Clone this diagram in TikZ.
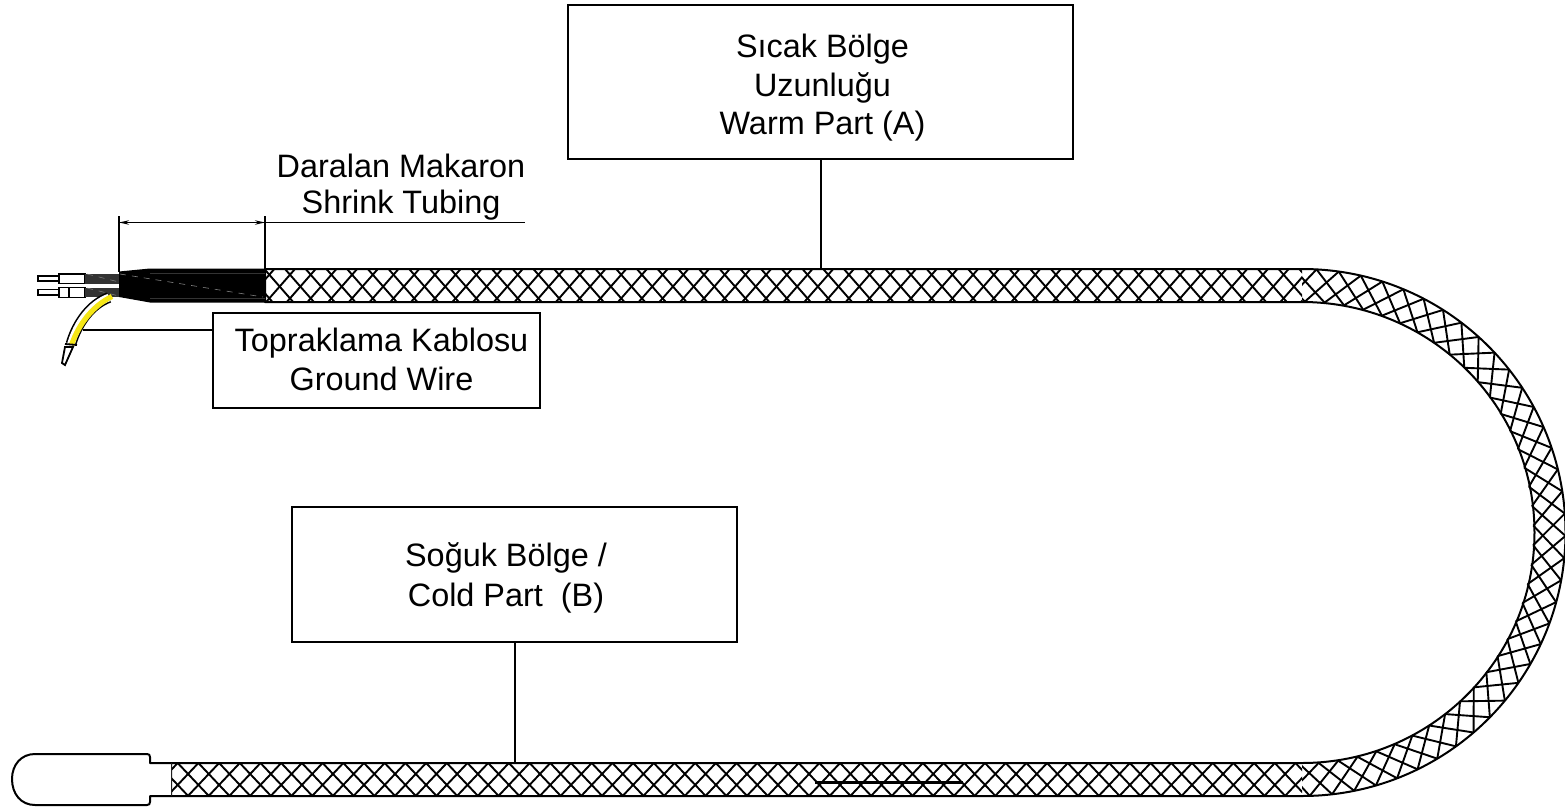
\documentclass[tikz,border=0pt]{standalone}
\usepackage{xcolor}
\usepackage{fontspec}
\setmainfont{Liberation Sans}
\usetikzlibrary{arrows.meta}
\definecolor{jacket}{HTML}{333333}
\definecolor{groundyellow}{HTML}{F5E616}

\begin{document}
\begin{tikzpicture}[
          x=0.5pt, y=-0.5pt,
          labelbox/.style={rectangle, draw, line width=0.8pt, inner sep=0pt},
          labeltext/.style={align=center, inner sep=0pt, font=\fontsize{16.2}{19.25}\selectfont},
          outline/.style={line width=1pt, line join=round},
          leader/.style={line width=0.75pt},
          braid/.style={line width=0.95pt},
          wire/.style={line width=0.9pt, fill=white},
          dimarrow/.style={{Stealth[length=5pt,width=2.2pt]}-{Stealth[length=5pt,width=2.2pt]}, line width=0.75pt}
      ]
      \useasboundingbox (0,0) rectangle (1565,809);

      % Boxes
      \node[labelbox, minimum width=252.5pt, minimum height=77pt] (warmbox) at (820.5,82) {};
      \node[labelbox, minimum width=163.5pt, minimum height=47.5pt] (groundbox) at (376.5,360.5) {};
      \node[labelbox, minimum width=222.5pt, minimum height=67.5pt] (coldbox) at (514.5,574.5) {};

      % Labels
      \node[labeltext] (warmtext) at (822.5,88) {Sıcak Bölge\\Uzunluğu\\Warm Part (A)};
      \node[labeltext] (groundtext) at (381.5,359.5) {Topraklama Kablosu\\Ground Wire};
      \node[labeltext, font=\fontsize{16.2}{20}\selectfont] (coldtext) at (506,578) {Soğuk Bölge /\\Cold Part~ (B)};
      \node[labeltext, font=\fontsize{16.2}{18}\selectfont] (shrinktext) at (401,187) {Daralan Makaron\\Shrink Tubing};

      % Heating strip
      \draw[outline] (265,269) -- (1302,269) arc[start angle=90, end angle=-90, radius=131.75pt] -- (171,796) -- (171,763)
            -- (1302,763) arc[start angle=-90, end angle=90, x radius=116.25pt, y radius=115.25pt] -- (265,302) -- cycle;

      % Braid on the straight parts
      \foreach \ytop/\xleft/\xback/\xfore/\xrun in {269/265/285/295/28.9, 763/171/778/778/31.2}{
        \begin{scope}
          \clip (\xleft,\ytop) rectangle (1302,\ytop+33);
          \foreach \k in {-60,...,60}{
            \draw[braid] ({\xback+\k*20.7},\ytop) -- ++(\xrun,33);
            \draw[braid] ({\xfore+\k*20.7},\ytop) -- ++(-\xrun,33);
          }
        \end{scope}
      }

      % Braid on the bend
      \begin{scope}
        \clip (1302,260) rectangle (1575,805);
        \foreach \k in {-2,...,40}{
          \pgfmathsetmacro{\angA}{91.7-\k*4.865}
          \draw[braid] ({1302+263.5*cos(\angA)},{532.5-263.5*sin(\angA)}) -- ({1302+231.5*cos(\angA-7.3)},{532.5-231*sin(\angA-7.3)});
          \draw[braid] ({1302+263.5*cos(\angA)},{532.5-263.5*sin(\angA)}) -- ({1302+231.5*cos(\angA+7.3)},{532.5-231*sin(\angA+7.3)});
        }
      \end{scope}

      % Mark on the lower run
      \coordinate (markL) at (815,782);
      \coordinate (markR) at (963,782);
      \draw[line width=1.5pt] (markL) -- (markR);

      % Probe
      \draw[outline, fill=white] (171,763) -- (150,763) -- (150,757) .. controls (150,755) and (149,754) .. (147,754) -- (35,754)
            .. controls (21,754) and (12,765) .. (12,779) .. controls (12,794) and (21,805) .. (35,805) -- (147,805)
            .. controls (149,805) and (150,804) .. (150,802) -- (150,796) -- (171,796);

      % Conductors
      \draw[wire] (38,276) rectangle (59,281);
      \draw[wire] (38,289.5) rectangle (59,295);
      \draw[wire] (59,274) rectangle (85,283.5);
      \draw[wire] (59,287.5) rectangle (85,297.5);
      \draw[wire] (69,287.5) -- (69,297.5);
      \fill[jacket] (85,273.5) rectangle (119,283.5);
      \fill[jacket] (85,287.5) rectangle (119,297);
      \draw[gray, line width=0.25pt, dashed] (87,274) -- (119,282);
      \draw[gray, line width=0.25pt, dashed] (87,288) -- (119,296);

      % Ground wire
      \draw[wire] (65,347) -- (62,363) -- (65,365) -- (73,347) -- cycle;
      \draw[black, line width=5.4pt] (109,297.5) .. controls (91,304) and (77,323) .. (71,344);
      \draw[white, line width=3.8pt] (109,297.5) .. controls (91,304) and (77,323) .. (71,344);
      \draw[groundyellow, line width=2.6pt] (112,296.5) .. controls (94,305) and (79,323) .. (71.5,345);
      \draw[line width=0.9pt] (65,344) -- (77,345);

      % Shrink tubing
      \fill[black] (119,271.5) -- (150,268.5) -- (265,268.5) -- (265,302.5) -- (150,302.5) -- (119,297) -- cycle;
      \draw[gray, line width=0.3pt, dashed] (120,274) -- (263,297);
      \draw[jacket, line width=0.25pt] (150,273.5) -- (265,273.5);
      \draw[jacket, line width=0.25pt] (150,298) -- (265,298);

      % Leaders
      \coordinate (warmtap) at (821,269);
      \coordinate (coldtap) at (515,763);
      \coordinate (groundtap) at (83,330);
      \coordinate (groundedge) at (213,330);
      \draw[leader] (warmbox.south -| warmtap) -- (warmtap);
      \draw[leader] (coldbox.south -| coldtap) -- (coldtap);
      \draw[leader] (groundedge) -- (groundtap);

      % Tubing dimension
      \coordinate (dimL) at (119,222.5);
      \coordinate (dimR) at (265,222.5);
      \coordinate (dimEnd) at (525,222.5);
      \draw[dimarrow] (dimL) -- (dimR);
      \draw[leader] (dimR) -- (dimEnd);
      \draw[leader] (119,216) -- (119,272);
      \draw[leader] (265,216) -- (265,269);

      \end{tikzpicture}
\end{document}
